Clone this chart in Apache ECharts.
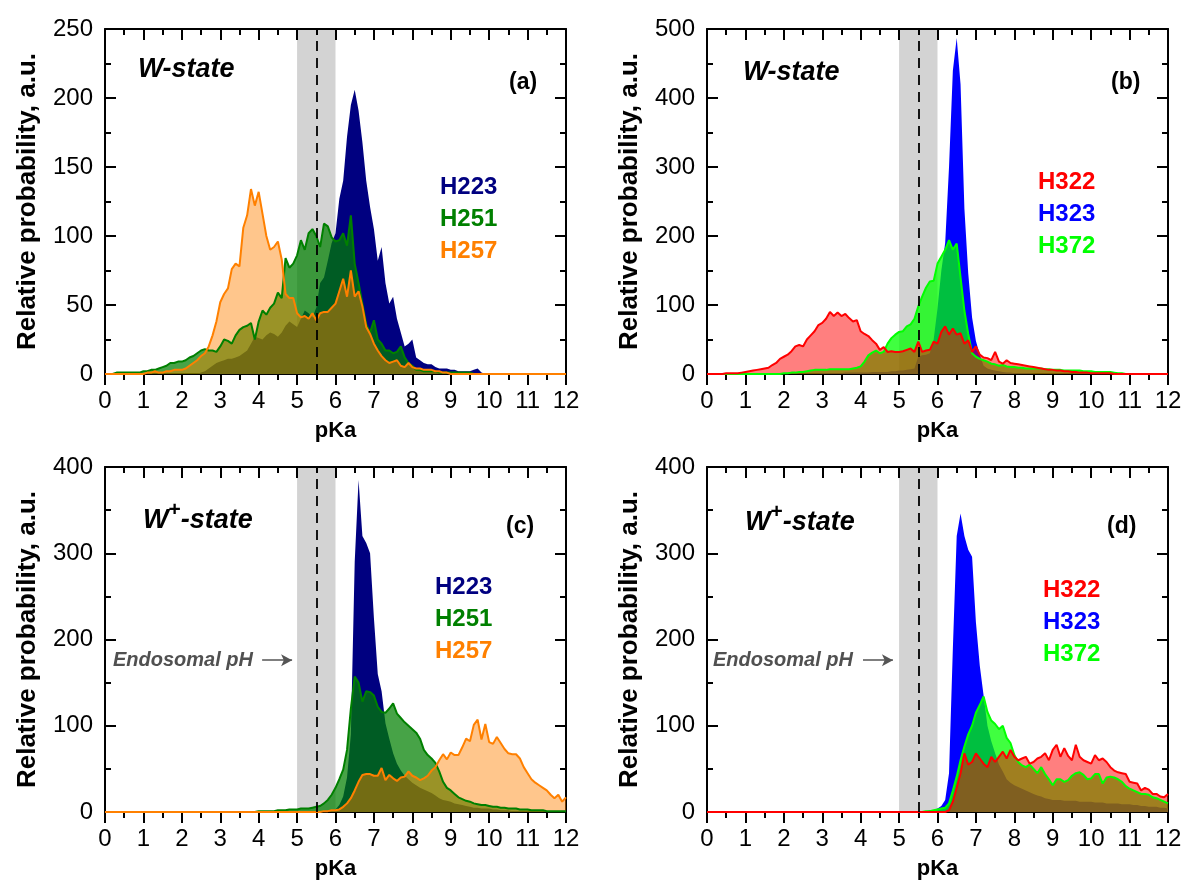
<!DOCTYPE html>
<html>
<head>
<meta charset="utf-8">
<script src="https://cdn.jsdelivr.net/npm/echarts@6/dist/echarts.min.js"></script>
<style>
html,body{margin:0;padding:0;background:#fff;}
#chart{width:1184px;height:892px;}
</style>
</head>
<body>
<div id="chart"></div>
<script>
// pKa sampling grid (bin centres)
const pKa = [
0,0.1,0.2,0.3,0.4,0.5,0.6,0.7,0.8,0.9,
1,1.1,1.2,1.3,1.4,1.5,1.6,1.7,1.8,1.9,
2,2.1,2.2,2.3,2.4,2.5,2.6,2.7,2.8,2.9,
3,3.1,3.2,3.3,3.4,3.5,3.6,3.7,3.8,3.9,
4,4.1,4.2,4.3,4.4,4.5,4.6,4.7,4.8,4.9,
5,5.1,5.2,5.3,5.4,5.5,5.6,5.7,5.8,5.9,
6,6.1,6.2,6.3,6.4,6.5,6.6,6.7,6.8,6.9,
7,7.1,7.2,7.3,7.4,7.5,7.6,7.7,7.8,7.9,
8,8.1,8.2,8.3,8.4,8.5,8.6,8.7,8.8,8.9,
9,9.1,9.2,9.3,9.4,9.5,9.6,9.7,9.8,9.9,
10,10.1,10.2,10.3,10.4,10.5,10.6,10.7,10.8,10.9,
11,11.1,11.2,11.3,11.4,11.5,11.6,11.7,11.8,11.9,12
];

// Panel (a) W-state
const a_H223 = [
0,0,0,0,0,0,0,0,0,0,
0,0,0,0,0,0,0,0,0,0,
0,0,0,0,0,1,2,4,6,8,
9,10,11,11,12,13,15,17,22,27,
26,25,28,30,29,27,30,35,38,36,
34,40,46,44,41,48,66,70,82,95,
102,127,140,172,195,206,191,168,140,121,
105,82,92,66,51,56,40,30,20,22,
25,12,10,8,7,7,5,4,4,4,
3,3,2,2,2,2,3,4,1,0,
0,0,0,0,0,0,0,0,0,0,
0,0,0,0,0,0,0,0,0,0,0
];
const a_H251 = [
0,0,0,1,1,1,1,1,1,1,
2,2,3,3,4,5,6,8,8,9,
9,10,12,13,15,17,18,17,17,16,
20,25,24,22,28,32,34,35,37,25,
38,46,43,48,51,59,55,84,77,80,
86,97,90,102,105,100,92,109,107,99,
96,97,102,93,115,80,66,51,36,30,
39,25,22,17,17,15,16,20,12,8,
6,3,3,2,2,2,2,1,1,1,
1,1,1,1,1,1,0,0,0,0,
0,0,0,0,0,0,0,0,0,0,
0,0,0,0,0,0,0,0,0,0,0
];
const a_H257 = [
0,0,0,0,0,0,0,0,0,0,
0,1,1,2,1,1,2,2,3,3,
3,4,6,8,10,13,15,20,28,38,
52,58,62,76,80,78,106,115,134,122,
132,116,100,90,92,96,83,58,55,55,
44,41,42,40,44,39,44,45,45,48,
51,60,69,56,75,56,60,49,34,29,
22,17,13,10,8,9,10,6,5,8,
5,4,4,3,3,3,2,2,1,1,
0,0,0,0,0,0,0,0,0,0,
0,0,0,0,0,0,0,0,0,0,
0,0,0,0,0,0,0,0,0,0,0
];

// Panel (b) W-state
const b_H322 = [
0,0,0,0,0,1,1,1,1,2,
3,4,5,6,7,8,9,13,16,22,
25,28,33,40,42,40,50,56,62,71,
74,80,90,84,89,84,87,81,76,78,
62,58,55,49,44,35,39,32,33,32,
32,33,35,37,32,47,32,34,35,47,
44,61,69,57,66,57,59,44,49,32,
40,28,24,23,20,32,18,15,20,16,
15,14,13,12,11,10,9,8,7,6,
6,5,5,4,4,3,3,2,2,2,
1,1,1,1,1,1,0,0,0,0,
0,0,0,0,0,0,0,0,0,0,0
];
const b_H323 = [
0,0,0,0,0,0,0,0,0,0,
0,0,0,0,0,0,0,0,0,0,
0,0,0,0,0,0,0,0,0,0,
1,1,1,1,1,1,2,2,2,2,
2,2,2,3,3,3,3,3,4,4,
5,5,6,7,8,25,27,28,30,50,
95,150,190,300,440,487,420,240,146,82,
48,28,12,8,6,5,4,3,2,2,
1,1,1,1,1,0,0,0,0,0,
0,0,0,0,0,0,0,0,0,0,
0,0,0,0,0,0,0,0,0,0,
0,0,0,0,0,0,0,0,0,0,0
];
const b_H372 = [
0,0,0,0,0,0,0,0,0,0,
0,0,0,0,0,0,0,0,0,0,
1,1,2,2,3,3,4,5,6,6,
6,6,7,7,7,7,7,7,8,9,
11,18,27,31,34,30,32,44,52,57,
61,62,69,72,80,98,112,125,134,135,
160,170,180,194,180,189,140,92,58,30,
25,22,20,18,15,14,12,13,11,10,
10,9,9,8,8,8,8,8,7,7,
6,6,6,5,5,5,5,5,4,4,
4,3,3,3,3,3,2,1,1,0,
0,0,0,0,0,0,0,0,0,0,0
];

// Panel (c) W+-state
const c_H223 = [
0,0,0,0,0,0,0,0,0,0,
0,0,0,0,0,0,0,0,0,0,
0,0,0,0,0,0,0,0,0,0,
0,0,0,0,0,0,0,0,0,0,
0,0,0,0,0,0,0,0,0,0,
0,0,0,0,0,0,0,0,0,1,
3,8,18,40,90,290,385,320,312,300,
225,160,140,103,85,68,56,48,42,38,
34,31,28,26,24,22,19,16,14,13,
12,10,9,8,7,6,5,5,4,4,
4,3,3,2,2,2,1,1,1,0,
0,0,0,0,0,0,0,0,0,0,0
];
const c_H251 = [
0,0,0,0,0,0,0,0,0,0,
0,0,0,0,0,0,0,0,0,0,
0,0,0,0,0,0,0,0,0,0,
0,0,0,0,0,0,0,0,0,0,
1,1,1,1,1,2,2,2,3,3,
3,4,4,4,5,6,7,10,14,20,
28,38,49,72,120,157,150,128,140,139,
135,122,116,115,120,126,114,109,104,100,
96,92,85,72,66,62,57,47,35,28,
25,21,17,15,13,12,10,9,8,8,
7,6,6,5,5,4,4,4,3,3,
3,2,2,2,2,1,1,1,1,1,1
];
const c_H257 = [
0,0,0,0,0,0,0,0,0,0,
0,0,0,0,0,0,0,0,0,0,
0,0,0,0,0,0,0,0,0,0,
0,0,0,0,0,0,0,0,0,0,
0,0,0,0,0,0,0,0,0,0,
0,0,0,0,0,0,0,1,1,2,
2,3,6,10,16,25,35,43,44,44,
42,42,51,37,43,39,36,40,41,47,
42,40,37,39,42,48,52,60,67,61,
69,66,66,75,85,82,101,107,84,102,
81,79,87,80,73,68,67,67,62,52,
45,38,34,31,28,25,20,16,20,12,17
];

// Panel (d) W+-state
const d_H322 = [
0,0,0,0,0,0,0,0,0,0,
0,0,0,0,0,0,0,0,0,0,
0,0,0,0,0,0,0,0,0,0,
0,0,0,0,0,0,0,0,0,0,
0,0,0,0,0,0,0,0,0,0,
0,0,0,0,0,0,0,0,0,0,
0,0,0,2,12,28,45,68,55,58,
68,62,56,52,64,58,64,70,62,72,
64,60,62,64,56,58,62,64,68,60,
72,78,64,74,65,60,78,64,60,58,
56,66,60,62,58,52,48,46,45,44,
35,34,33,25,28,26,21,21,18,17,21
];
const d_H323 = [
0,0,0,0,0,0,0,0,0,0,
0,0,0,0,0,0,0,0,0,0,
0,0,0,0,0,0,0,0,0,0,
0,0,0,0,0,0,0,0,0,0,
0,0,0,0,0,0,0,0,0,0,
0,0,0,0,0,0,1,1,2,2,
4,7,14,45,190,320,346,320,304,296,
220,170,135,100,82,68,55,47,38,34,
31,29,27,25,23,21,19,18,16,15,
14,14,14,13,13,13,13,12,12,12,
12,11,11,11,10,10,10,10,9,9,
9,8,8,7,7,6,6,6,5,5,4
];
const d_H372 = [
0,0,0,0,0,0,0,0,0,0,
0,0,0,0,0,0,0,0,0,0,
0,0,0,0,0,0,0,0,0,0,
0,0,0,0,0,0,0,0,0,0,
0,0,0,0,0,0,0,0,0,0,
0,0,0,0,0,0,0,1,1,2,
3,4,5,10,25,41,60,76,90,100,
115,124,134,116,106,102,96,100,86,80,
66,58,54,52,55,50,45,52,44,38,
31,38,38,35,37,42,45,46,43,38,
39,44,44,33,40,41,40,38,35,30,
27,25,23,21,21,20,17,16,14,12,10
];

const yMax = [250, 500, 400, 400];
const yStep = [50, 100, 100, 100];
const xTicks = { min: 0, max: 12, step: 1 };
const bandRange = [5, 6];
const endosomalPH = 5.5;

const FONT = '"Liberation Sans", Arial, Helvetica, sans-serif';
const C = {
  H223: '#000080', H251: '#008000', H257: '#ff8000',
  H322: '#ff0000', H323: '#0000ff', H372: '#00ff00'
};

const grids = [
  {left:105, top:29, width:461, height:345},
  {left:707, top:29, width:461, height:345},
  {left:105, top:467, width:461, height:345},
  {left:707, top:467, width:461, height:345}
];

const axisLine = {show:true, onZero:false, lineStyle:{color:'#000', width:2}};
function tickCfg(inside){ return {show:true, inside:inside, length:11, lineStyle:{color:'#000', width:2}}; }
function minorCfg(){ return {show:true, splitNumber:2, length:6, lineStyle:{color:'#000', width:2}}; }

const xAxes = [], yAxes = [];
grids.forEach((g, i) => {
  xAxes.push({
    type:'value', gridIndex:i, position:'bottom', min:xTicks.min, max:xTicks.max, interval:xTicks.step, z:1.5,
    axisLine:axisLine, axisTick:tickCfg(false), minorTick:minorCfg(),
    splitLine:{show:false}, minorSplitLine:{show:false},
    axisLabel:{fontSize:24, color:'#000', margin:15, fontFamily:FONT},
    name:'pKa', nameLocation:'middle', nameGap:46,
    nameTextStyle:{fontSize:22, fontWeight:'bold', color:'#000', fontFamily:FONT}
  });
  xAxes.push({
    type:'value', gridIndex:i, position:'top', min:xTicks.min, max:xTicks.max, interval:xTicks.step, z:1.5,
    axisLine:axisLine, axisTick:tickCfg(true), minorTick:minorCfg(),
    splitLine:{show:false}, minorSplitLine:{show:false}, axisLabel:{show:false}
  });
  yAxes.push({
    type:'value', gridIndex:i, position:'left', min:0, max:yMax[i], interval:yStep[i], z:1.5,
    axisLine:axisLine, axisTick:tickCfg(true), minorTick:minorCfg(),
    splitLine:{show:false}, minorSplitLine:{show:false},
    axisLabel:{fontSize:24, color:'#000', margin:12, fontFamily:FONT},
    name:'Relative probability, a.u.', nameLocation:'middle', nameGap:64, nameRotate:90,
    nameTextStyle:{fontSize:26, fontWeight:'bold', color:'#000', fontFamily:FONT}
  });
  yAxes.push({
    type:'value', gridIndex:i, position:'right', min:0, max:yMax[i], interval:yStep[i], z:1.5,
    axisLine:axisLine, axisTick:tickCfg(true), minorTick:minorCfg(),
    splitLine:{show:false}, minorSplitLine:{show:false}, axisLabel:{show:false}
  });
});

function pts(vals){ return pKa.map((x, k) => [x, vals[k]]); }

function areaSeries(gi, name, vals, opacity, lineW, extra){
  const s = {
    type:'line', name:name, xAxisIndex:2*gi, yAxisIndex:2*gi,
    data:pts(vals), symbol:'none', showSymbol:false, smooth:false,
    lineStyle:{color:C[name], width:lineW, opacity: lineW > 0 ? 1 : 0},
    areaStyle:{color:C[name], opacity:opacity},
    itemStyle:{color:C[name]},
    emphasis:{disabled:true}, silent:true
  };
  return Object.assign(s, extra || {});
}

function bandAndPH(){
  return {
    markArea:{silent:true, z:1, itemStyle:{color:'#d3d3d3'}, label:{show:false},
      data:[[{xAxis:bandRange[0]},{xAxis:bandRange[1]}]]},
    markLine:{silent:true, z:5, symbol:['none','none'], label:{show:false},
      lineStyle:{color:'#000', width:1.8, type:[10,7]},
      data:[{xAxis:endosomalPH}]}
  };
}
function arrow(gi){
  return {
    markLine:{silent:true, z:6, symbol:['none','arrow'], symbolSize:[9,11], label:{show:false},
      lineStyle:{color:'#555', width:1.5, type:'solid'},
      data:[[{coord: gi===2 ? [4.09,176] : [4.06,176]},{coord: gi===2 ? [4.87,176] : [4.84,176]}]]}
  };
}

const series = [
  areaSeries(0,'H223',a_H223,1,0,bandAndPH()),
  areaSeries(0,'H251',a_H251,0.72,2),
  areaSeries(0,'H257',a_H257,0.45,2),
  areaSeries(1,'H323',b_H323,1,0,bandAndPH()),
  areaSeries(1,'H372',b_H372,0.75,2),
  areaSeries(1,'H322',b_H322,0.5,2),
  areaSeries(2,'H223',c_H223,1,0,bandAndPH()),
  areaSeries(2,'H251',c_H251,0.72,2),
  areaSeries(2,'H257',c_H257,0.45,2,arrow(2)),
  areaSeries(3,'H323',d_H323,1,0,bandAndPH()),
  areaSeries(3,'H372',d_H372,0.75,2),
  areaSeries(3,'H322',d_H322,0.5,2,arrow(3))
];

function legendAt(left, top, names){
  return {
    orient:'vertical', left:left, top:top, padding:0, itemGap:4,
    itemWidth:0, itemHeight:0, icon:'rect', selectedMode:false,
    textStyle:{fontSize:24, fontWeight:'bold', fontFamily:FONT, lineHeight:28},
    data:names.map(n => ({name:n, textStyle:{color:C[n]}}))
  };
}

function txt(x, y, text, size, style, color, rich){
  const st = {text:text, x:0, y:0, fill:color||'#000', fontSize:size, fontWeight:'bold',
    fontStyle:style||'normal', fontFamily:FONT, verticalAlign:'middle', align:'left'};
  if (rich) st.rich = rich;
  return {type:'text', x:x, y:y, silent:true, z:10, style:st};
}
const wplusRich = {
  w:{fontSize:27, fontWeight:'bold', fontStyle:'italic', fontFamily:FONT, lineHeight:34, verticalAlign:'bottom'},
  p:{fontSize:21, fontWeight:'bold', fontStyle:'normal', fontFamily:FONT, lineHeight:34, verticalAlign:'top'}
};

const option = {
  animation:false,
  backgroundColor:'#ffffff',
  grid:grids.map(g => Object.assign({containLabel:false, outerBoundsMode:'none'}, g)),
  xAxis:xAxes,
  yAxis:yAxes,
  legend:[
    legendAt(435, 173, ['H223','H251','H257']),
    legendAt(1033, 168, ['H322','H323','H372']),
    legendAt(430, 573, ['H223','H251','H257']),
    legendAt(1038, 576, ['H322','H323','H372'])
  ],
  graphic:[
    txt(138, 70, 'W-state', 27, 'italic'),
    txt(743, 73, 'W-state', 27, 'italic'),
    txt(143, 517, '{w|W}{p|+}{w|-state}', 27, 'italic', '#000', wplusRich),
    txt(745, 519, '{w|W}{p|+}{w|-state}', 27, 'italic', '#000', wplusRich),
    txt(509, 83, '(a)', 23),
    txt(1111, 83, '(b)', 23),
    txt(506, 527, '(c)', 23),
    txt(1107, 527, '(d)', 23),
    txt(113, 660, 'Endosomal pH', 20, 'italic', '#505050'),
    txt(713, 660, 'Endosomal pH', 20, 'italic', '#505050')
  ],
  series:series
};

const chart = echarts.init(document.getElementById('chart'), null, {renderer:'canvas'});
chart.setOption(option);
</script>
</body>
</html>
